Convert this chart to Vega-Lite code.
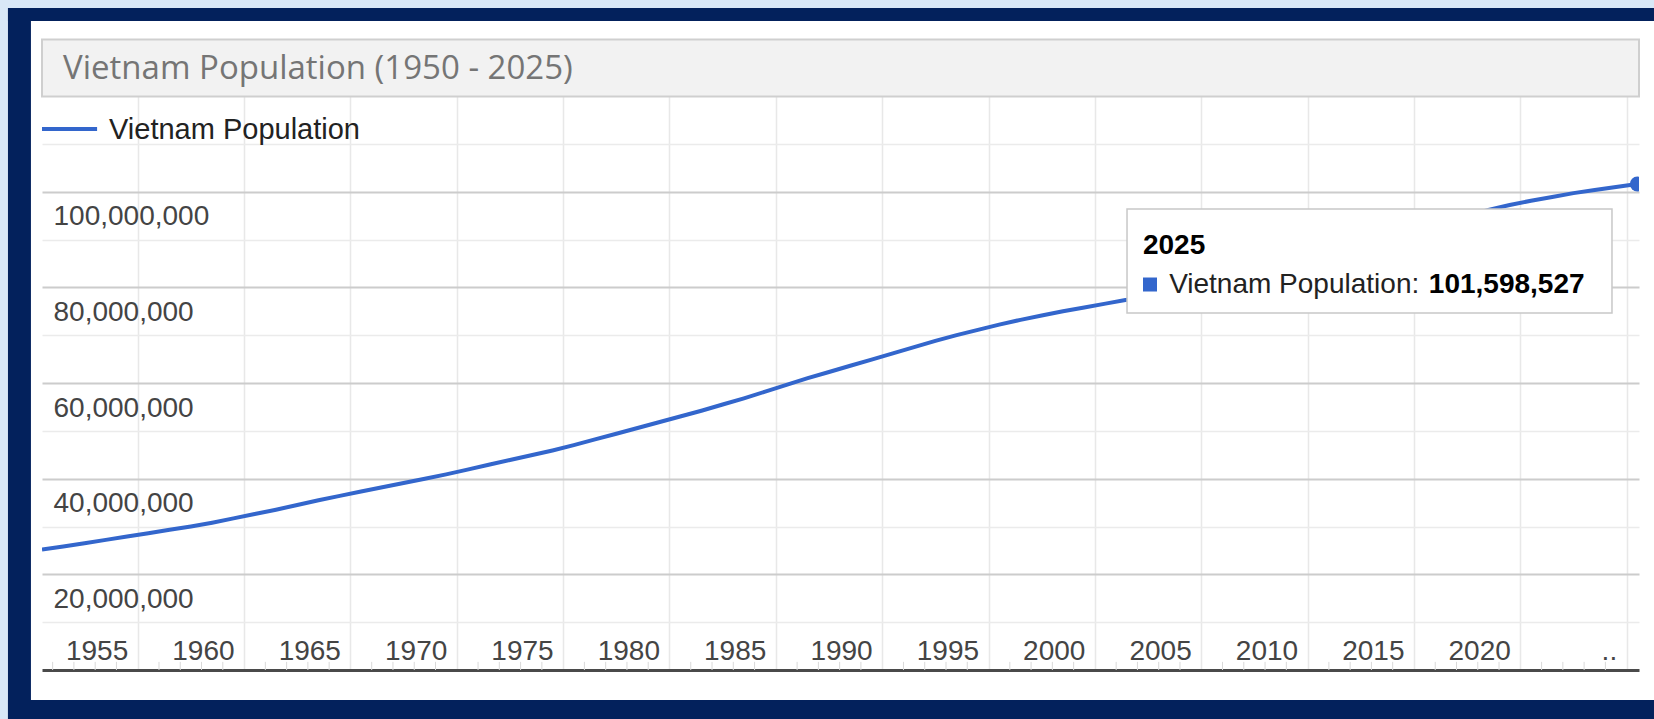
{
  "$schema": "https://vega.github.io/schema/vega-lite/v6.json",
  "width": 1597,
  "height": 574,
  "autosize": {"type": "none"},
  "padding": {"left": 42, "top": 96, "right": 15, "bottom": 49},
  "background": "white",
  "config": {"view": {"stroke": null}, "axis": {"labelOverlap": false}},
  "datasets": {
    "pop": [
      {"year": 1950, "population": 25200000},
      {"year": 1951, "population": 25800000},
      {"year": 1952, "population": 26500000},
      {"year": 1953, "population": 27200000},
      {"year": 1954, "population": 27900000},
      {"year": 1955, "population": 28600000},
      {"year": 1956, "population": 29300000},
      {"year": 1957, "population": 30000000},
      {"year": 1958, "population": 30800000},
      {"year": 1959, "population": 31700000},
      {"year": 1960, "population": 32600000},
      {"year": 1961, "population": 33500000},
      {"year": 1962, "population": 34500000},
      {"year": 1963, "population": 35500000},
      {"year": 1964, "population": 36400000},
      {"year": 1965, "population": 37300000},
      {"year": 1966, "population": 38200000},
      {"year": 1967, "population": 39100000},
      {"year": 1968, "population": 40000000},
      {"year": 1969, "population": 40900000},
      {"year": 1970, "population": 41900000},
      {"year": 1971, "population": 42900000},
      {"year": 1972, "population": 43900000},
      {"year": 1973, "population": 44900000},
      {"year": 1974, "population": 45900000},
      {"year": 1975, "population": 47000000},
      {"year": 1976, "population": 48200000},
      {"year": 1977, "population": 49400000},
      {"year": 1978, "population": 50600000},
      {"year": 1979, "population": 51800000},
      {"year": 1980, "population": 53000000},
      {"year": 1981, "population": 54200000},
      {"year": 1982, "population": 55500000},
      {"year": 1983, "population": 56800000},
      {"year": 1984, "population": 58200000},
      {"year": 1985, "population": 59600000},
      {"year": 1986, "population": 61000000},
      {"year": 1987, "population": 62300000},
      {"year": 1988, "population": 63600000},
      {"year": 1989, "population": 64900000},
      {"year": 1990, "population": 66200000},
      {"year": 1991, "population": 67500000},
      {"year": 1992, "population": 68800000},
      {"year": 1993, "population": 70000000},
      {"year": 1994, "population": 71100000},
      {"year": 1995, "population": 72200000},
      {"year": 1996, "population": 73200000},
      {"year": 1997, "population": 74100000},
      {"year": 1998, "population": 75000000},
      {"year": 1999, "population": 75800000},
      {"year": 2000, "population": 76600000},
      {"year": 2001, "population": 77400000},
      {"year": 2002, "population": 78400000},
      {"year": 2003, "population": 79500000},
      {"year": 2004, "population": 80600000},
      {"year": 2005, "population": 81700000},
      {"year": 2006, "population": 82800000},
      {"year": 2007, "population": 83900000},
      {"year": 2008, "population": 85000000},
      {"year": 2009, "population": 86100000},
      {"year": 2010, "population": 87200000},
      {"year": 2011, "population": 88300000},
      {"year": 2012, "population": 89400000},
      {"year": 2013, "population": 90500000},
      {"year": 2014, "population": 91600000},
      {"year": 2015, "population": 92700000},
      {"year": 2016, "population": 93800000},
      {"year": 2017, "population": 95000000},
      {"year": 2018, "population": 96200000},
      {"year": 2019, "population": 97200000},
      {"year": 2020, "population": 98100000},
      {"year": 2021, "population": 98900000},
      {"year": 2022, "population": 99700000},
      {"year": 2023, "population": 100352192},
      {"year": 2024, "population": 100987686},
      {"year": 2025, "population": 101598527}
    ],
    "minorTicks": [
      {"t": 1950.5},{"t": 1951.5},{"t": 1952.5},{"t": 1953.5},{"t": 1955.5},{"t": 1956.5},{"t": 1957.5},{"t": 1958.5},
      {"t": 1960.5},{"t": 1961.5},{"t": 1962.5},{"t": 1963.5},{"t": 1965.5},{"t": 1966.5},{"t": 1967.5},{"t": 1968.5},
      {"t": 1970.5},{"t": 1971.5},{"t": 1972.5},{"t": 1973.5},{"t": 1975.5},{"t": 1976.5},{"t": 1977.5},{"t": 1978.5},
      {"t": 1980.5},{"t": 1981.5},{"t": 1982.5},{"t": 1983.5},{"t": 1985.5},{"t": 1986.5},{"t": 1987.5},{"t": 1988.5},
      {"t": 1990.5},{"t": 1991.5},{"t": 1992.5},{"t": 1993.5},{"t": 1995.5},{"t": 1996.5},{"t": 1997.5},{"t": 1998.5},
      {"t": 2000.5},{"t": 2001.5},{"t": 2002.5},{"t": 2003.5},{"t": 2005.5},{"t": 2006.5},{"t": 2007.5},{"t": 2008.5},
      {"t": 2010.5},{"t": 2011.5},{"t": 2012.5},{"t": 2013.5},{"t": 2015.5},{"t": 2016.5},{"t": 2017.5},{"t": 2018.5},
      {"t": 2020.5},{"t": 2021.5},{"t": 2022.5},{"t": 2023.5}
    ]
  },
  "layer": [
    {
      "data": {"name": "pop"},
      "mark": {"type": "line", "color": "#3366cc", "strokeWidth": 4, "clip": true},
      "encoding": {
        "x": {
          "field": "year", "type": "quantitative",
          "scale": {"domain": [1950, 2025.08], "nice": false, "zero": false},
          "axis": {
            "title": null,
            "values": [1954.5,1959.5,1964.5,1969.5,1974.5,1979.5,1984.5,1989.5,1994.5,1999.5,2004.5,2009.5,2014.5,2019.5,2024.5],
            "grid": true,
            "gridColor": "#e8e8e8",
            "gridWidth": 1.5,
            "ticks": false,
            "domain": true,
            "domainColor": "#4a4a4a",
            "domainWidth": 3,
            "labelExpr": "datum.value > 2024 ? '..' : format(datum.value + 0.5, 'd')",
            "labelAlign": "right",
            "labelOffset": -10,
            "labelPadding": -11,
            "labelBaseline": "alphabetic",
            "labelFont": "Liberation Sans",
            "labelFontSize": 28,
            "labelColor": "#444444",
            "labelOverlap": false,
            "labelFlush": false
          }
        },
        "y": {
          "field": "population", "type": "quantitative",
          "scale": {"domain": [0, 120000000], "nice": false, "zero": true},
          "axis": {
            "title": null,
            "values": [10000000,20000000,30000000,40000000,50000000,60000000,70000000,80000000,90000000,100000000,110000000],
            "grid": true,
            "gridColor": {"condition": {"test": "datum.value % 20000000 == 0", "value": "#cccccc"}, "value": "#ebebeb"},
            "gridWidth": {"condition": {"test": "datum.value % 20000000 == 0", "value": 2}, "value": 1.5},
            "ticks": false,
            "domain": false,
            "labelExpr": "datum.value % 20000000 == 0 ? format(datum.value, ',d') : ''",
            "labelAlign": "left",
            "labelPadding": -11,
            "labelOffset": 33,
            "labelBaseline": "alphabetic",
            "labelFont": "Liberation Sans",
            "labelFontSize": 28,
            "labelColor": "#444444",
            "labelOverlap": false,
            "labelFlush": false
          }
        }
      }
    },
    {
      "data": {"name": "minorTicks"},
      "mark": {"type": "rule", "color": "#d9d9d9", "strokeWidth": 1},
      "encoding": {
        "x": {"field": "t", "type": "quantitative"},
        "y": {"datum": 0, "type": "quantitative"},
        "y2": {"datum": 1700000}
      }
    },
    {
      "data": {"name": "pop"},
      "transform": [{"filter": "datum.year == 2025"}],
      "mark": {"type": "point", "shape": "circle", "filled": true, "size": 220, "color": "#3366cc", "opacity": 1, "clip": true},
      "encoding": {
        "x": {"field": "year", "type": "quantitative"},
        "y": {"field": "population", "type": "quantitative"}
      }
    },
    {
      "data": {"values": [{}]},
      "mark": {"type": "rect", "color": "#d9e8f7"},
      "encoding": {
        "x": {"datum": 1946, "type": "quantitative"}, "x2": {"datum": 1948.4},
        "y": {"datum": 150000000, "type": "quantitative"}, "y2": {"datum": -15000000}
      }
    },
    {
      "data": {"values": [{}]},
      "mark": {"type": "rect", "color": "#d9e8f7"},
      "encoding": {
        "x": {"datum": 1946, "type": "quantitative"}, "x2": {"datum": 2028},
        "y": {"datum": 150000000, "type": "quantitative"}, "y2": {"datum": 138400000}
      }
    },
    {
      "data": {"values": [{}]},
      "mark": {"type": "rect", "color": "#03215c"},
      "encoding": {
        "x": {"datum": 1948.4, "type": "quantitative"}, "x2": {"datum": 1949.48},
        "y": {"datum": 138400000, "type": "quantitative"}, "y2": {"datum": -15000000}
      }
    },
    {
      "data": {"values": [{}]},
      "mark": {"type": "rect", "color": "#03215c"},
      "encoding": {
        "x": {"datum": 1948.4, "type": "quantitative"}, "x2": {"datum": 2028},
        "y": {"datum": 138400000, "type": "quantitative"}, "y2": {"datum": 135680000}
      }
    },
    {
      "data": {"values": [{}]},
      "mark": {"type": "rect", "color": "#03215c"},
      "encoding": {
        "x": {"datum": 1948.4, "type": "quantitative"}, "x2": {"datum": 2028},
        "y": {"datum": -6270000, "type": "quantitative"}, "y2": {"datum": -15000000}
      }
    },
    {
      "data": {"values": [{}]},
      "mark": {"type": "rect", "fill": "#f2f2f2", "stroke": "#cfcfcf", "strokeWidth": 2},
      "encoding": {
        "x": {"datum": 1950, "type": "quantitative"}, "x2": {"datum": 2025.08},
        "y": {"datum": 131800000, "type": "quantitative"}, "y2": {"datum": 119900000}
      }
    },
    {
      "data": {"values": [{}]},
      "mark": {"type": "text", "text": "Vietnam Population (1950 - 2025)", "align": "left", "baseline": "alphabetic", "font": "Open Sans", "fontSize": 33, "color": "#757575"},
      "encoding": {
        "x": {"datum": 1950.99, "type": "quantitative"},
        "y": {"datum": 123600000, "type": "quantitative"}
      }
    },
    {
      "data": {"values": [{}]},
      "mark": {"type": "rule", "color": "#3366cc", "strokeWidth": 4},
      "encoding": {
        "x": {"datum": 1950, "type": "quantitative"}, "x2": {"datum": 1952.59},
        "y": {"datum": 113100000, "type": "quantitative"}
      }
    },
    {
      "data": {"values": [{}]},
      "mark": {"type": "text", "text": "Vietnam Population", "align": "left", "baseline": "alphabetic", "font": "Liberation Sans", "fontSize": 29, "color": "#222222"},
      "encoding": {
        "x": {"datum": 1953.15, "type": "quantitative"},
        "y": {"datum": 111000000, "type": "quantitative"}
      }
    },
    {
      "data": {"values": [{}]},
      "mark": {"type": "rect", "fill": "white", "stroke": "#c8c8c8", "strokeWidth": 1.5},
      "encoding": {
        "x": {"datum": 2001.01, "type": "quantitative"}, "x2": {"datum": 2023.81},
        "y": {"datum": 96380000, "type": "quantitative"}, "y2": {"datum": 74630000}
      }
    },
    {
      "data": {"values": [{}]},
      "mark": {"type": "text", "text": "2025", "align": "left", "baseline": "alphabetic", "font": "Liberation Sans", "fontSize": 28, "fontWeight": "bold", "color": "#000000"},
      "encoding": {
        "x": {"datum": 2001.76, "type": "quantitative"},
        "y": {"datum": 86970000, "type": "quantitative"}
      }
    },
    {
      "data": {"values": [{}]},
      "mark": {"type": "point", "shape": "square", "filled": true, "size": 196, "color": "#3366cc", "opacity": 1},
      "encoding": {
        "x": {"datum": 2002.09, "type": "quantitative"},
        "y": {"datum": 80590000, "type": "quantitative"}
      }
    },
    {
      "data": {"values": [{}]},
      "mark": {"type": "text", "text": "Vietnam Population:", "align": "left", "baseline": "alphabetic", "font": "Liberation Sans", "fontSize": 28, "color": "#222222"},
      "encoding": {
        "x": {"datum": 2002.99, "type": "quantitative"},
        "y": {"datum": 78820000, "type": "quantitative"}
      }
    },
    {
      "data": {"values": [{}]},
      "mark": {"type": "text", "text": "101,598,527", "align": "left", "baseline": "alphabetic", "font": "Liberation Sans", "fontSize": 28, "fontWeight": "bold", "color": "#000000"},
      "encoding": {
        "x": {"datum": 2015.2, "type": "quantitative"},
        "y": {"datum": 78820000, "type": "quantitative"}
      }
    }
  ]
}
